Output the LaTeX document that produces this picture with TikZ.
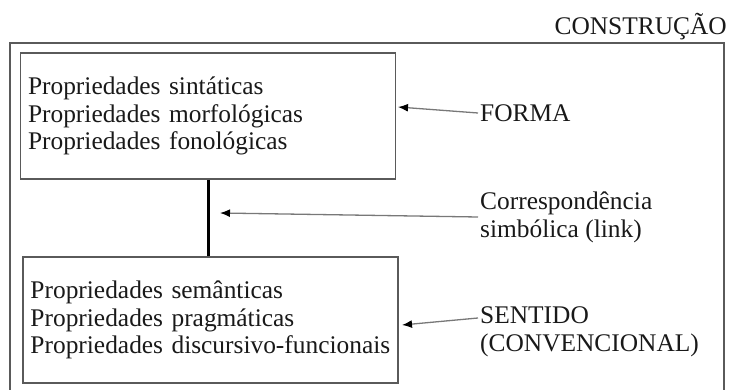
\documentclass[tikz,border=0pt]{standalone}
\usepackage{fontspec}
\setmainfont{Liberation Serif}
\usetikzlibrary{arrows.meta}

\definecolor{inkgray}{RGB}{25,25,25}
\definecolor{boxgray}{RGB}{90,90,90}
\definecolor{wiregray}{RGB}{120,120,120}

\begin{document}
\begin{tikzpicture}[x=1pt,y=-1pt,
	every node/.style={text=inkgray,font=\fontsize{25.4pt}{27.8pt}\selectfont},
	propbox/.style={draw=boxgray,line width=1.6pt,text width=360pt,inner xsep=7.5pt,inner ysep=8pt,minimum height=126pt,align=left},
	tag/.style={anchor=west,inner sep=2pt,align=left},
	pointer/.style={draw=wiregray,line width=1.3pt,-{Latex[length=10pt,width=8pt,fill=black,color=black]}}]
	\useasboundingbox (0,0) rectangle (731,390);

	%OUTER FRAME
	\draw[boxgray,line width=1.6pt] (10,395) -- (10,43) -- (724,43) -- (724,395);
	\node[anchor=base east,inner sep=0pt] (construcao) at (727,35) {CONSTRUÇÃO};

	%BOXES
	\node[propbox] (forma box) at (208,116) {Propriedades sintáticas\\Propriedades morfológicas\\Propriedades fonológicas};
	\node[propbox] (sentido box) at (210.5,320) {Propriedades semânticas\\Propriedades pragmáticas\\Propriedades discursivo-funcionais};
	\draw[black,line width=3pt] (forma box.south) -- (forma box.south |- sentido box.north);	%link

	%LABELS
	\node[tag] (forma) at (478,113) {FORMA};
	\node[tag] (link) at (478,217) {Correspondência\\simbólica (link)};
	\node[tag] (sentido) at (478,332) {SENTIDO\\(CONVENCIONAL)};

	%ARROWS
	\coordinate (forma tip) at (398,107);
	\coordinate (link tip) at (220,213);
	\coordinate (sentido tip) at (402,325);
	\draw[pointer] (forma.west) -- (forma tip);
	\draw[pointer] (link.west) -- (link tip);
	\draw[pointer] ([yshift=14pt]sentido.west) -- (sentido tip);
\end{tikzpicture}
\end{document}
